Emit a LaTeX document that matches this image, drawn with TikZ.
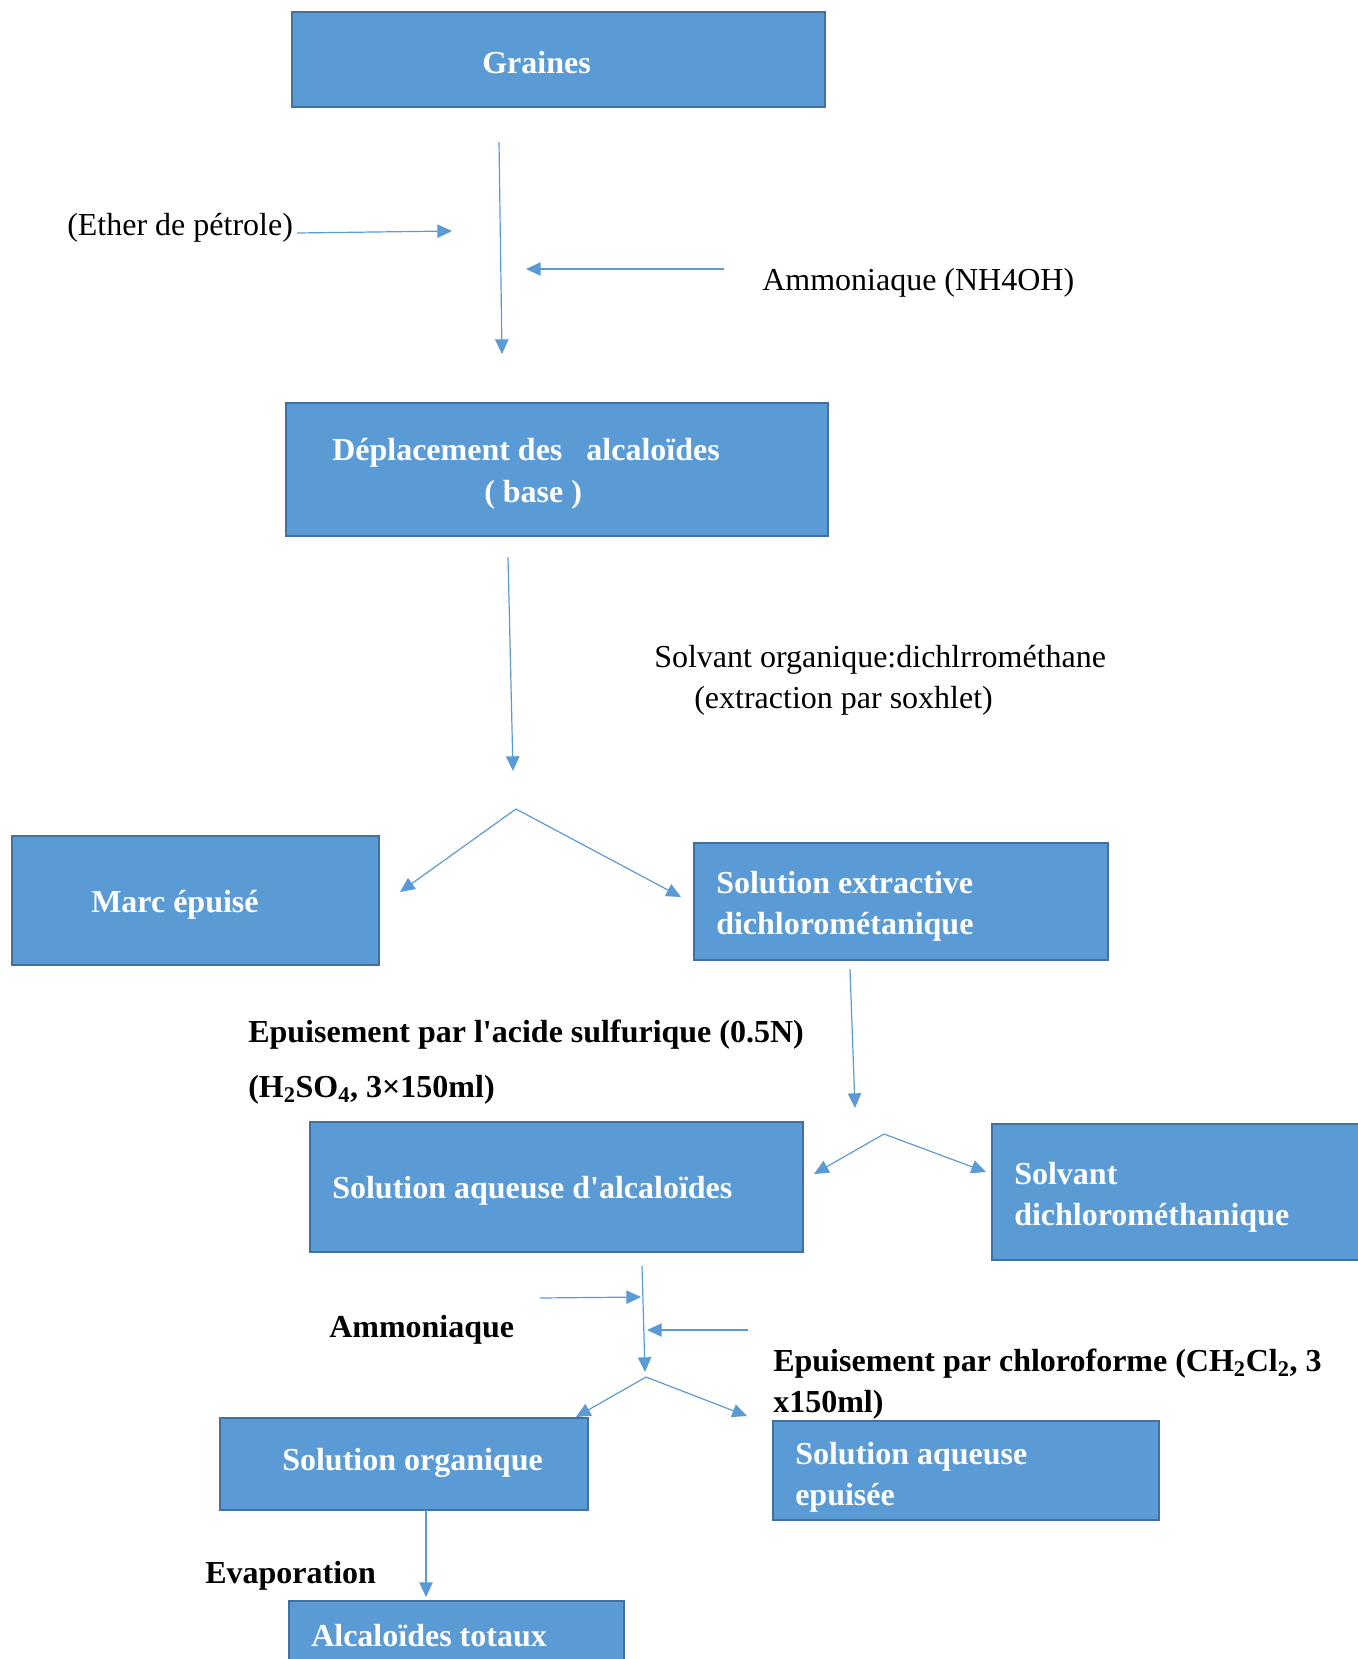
\documentclass[tikz,border=0pt]{standalone}
\usepackage{fontspec}
\setmainfont{Liberation Serif}[Ligatures=TeXOff]
\usepackage{tikz}
\usetikzlibrary{arrows.meta,fit}

\definecolor{boxfill}{RGB}{91,155,213}
\definecolor{boxline}{RGB}{65,113,156}

\tikzset{
  boite/.style={draw=boxline, fill=boxfill, line width=1.6pt, inner sep=0pt},
  dansboite/.style={text=white, font=\fontsize{24}{30.75}\selectfont\bfseries, align=left, inner sep=0.75pt, anchor=west},
  legende/.style={text=black, font=\fontsize{24}{30.75}\selectfont, align=left, inner sep=0.75pt, anchor=west},
  legendegras/.style={legende, font=\fontsize{24}{30.75}\selectfont\bfseries},
  fleche/.style={draw=boxfill, line width=0.9pt, -{Triangle[length=11pt,width=10pt]}}
}

\begin{document}
\begin{tikzpicture}[x=0.75pt,y=0.75pt,yscale=-1,xscale=1]
        \useasboundingbox (0,0) rectangle (1358,1659);

        %Shape: Rectangle [Graines]
        \node [boite, fit={(292,12) (825,107)}] (graines) {};
        %Shape: Rectangle [Deplacement]
        \node [boite, fit={(286,403) (828,536)}] (deplac) {};
        %Shape: Rectangle [Marc]
        \node [boite, fit={(12,836) (379,965)}] (marc) {};
        %Shape: Rectangle [Solution extractive]
        \node [boite, fit={(694,843) (1108,960)}] (solext) {};
        %Shape: Rectangle [Solution aqueuse]
        \node [boite, fit={(310,1122) (803,1252)}] (solaq) {};
        %Shape: Rectangle [Solvant]
        \node [boite, fit={(992,1124) (1372,1260)}] (solvant) {};
        %Shape: Rectangle [Solution organique]
        \node [boite, fit={(220,1418) (588,1510)}] (solorg) {};
        %Shape: Rectangle [Solution aqueuse epuisee]
        \node [boite, fit={(773,1421) (1159,1520)}] (solaqep) {};
        %Shape: Rectangle [Alcaloides]
        \node [boite, fit={(289,1601) (624,1690)}] (alcal) {};

        % free ends of the connectors
        \coordinate (g1) at (499,142);
        \coordinate (g2) at (502,354);
        \coordinate (eth1) at (297,233);
        \coordinate (eth2) at (452,231);
        \coordinate (amm1) at (724,269);
        \coordinate (amm2) at (526,269);
        \coordinate (d1) at (508,557);
        \coordinate (d2) at (513,771);
        \coordinate (s1) at (516,809);
        \coordinate (s1g) at (400,892);
        \coordinate (s1d) at (681,897);
        \coordinate (x1) at (850,969);
        \coordinate (x2) at (855,1108);
        \coordinate (s2) at (884,1134);
        \coordinate (s2g) at (814,1174);
        \coordinate (s2d) at (986,1172);
        \coordinate (q1) at (642,1266);
        \coordinate (q2) at (645,1372);
        \coordinate (n1) at (540,1298);
        \coordinate (n2) at (641,1297);
        \coordinate (c1) at (748,1330);
        \coordinate (c2) at (647,1330);
        \coordinate (s3) at (646,1377);
        \coordinate (s3g) at (576,1417);
        \coordinate (s3d) at (747,1416);
        \coordinate (o1) at (426,1510);
        \coordinate (o2) at (426,1597);

        %Straight Lines
        \draw [fleche] (g1) -- (g2);
        \draw [fleche] (eth1) -- (eth2);
        \draw [fleche] (amm1) -- (amm2);
        \draw [fleche] (d1) -- (d2);
        \draw [fleche] (s1) -- (s1g);
        \draw [fleche] (s1) -- (s1d);
        \draw [fleche] (x1) -- (x2);
        \draw [fleche] (s2) -- (s2g);
        \draw [fleche] (s2) -- (s2d);
        \draw [fleche] (q1) -- (q2);
        \draw [fleche] (n1) -- (n2);
        \draw [fleche] (c1) -- (c2);
        \draw [fleche] (s3) -- (s3g);
        \draw [fleche] (s3) -- (s3d);
        \draw [fleche] (o1) -- (o2);

        % Text Node
        \node [dansboite] (tgraines) at (481,63) {Graines};
        % Text Node
        \node [dansboite] (tdeplac) at (331,453) {Déplacement des \ \ alcaloïdes};
        \node [dansboite] (tbase) at (483,495) {( base )};
        % Text Node
        \node [dansboite] (tmarc) at (90,905) {Marc épuisé};
        % Text Node
        \node [dansboite] (tsolext) at (715,906) {Solution extractive\\dichlorométanique};
        % Text Node
        \node [dansboite] (tsolaq) at (331,1191) {Solution aqueuse d'alcaloïdes};
        % Text Node
        \node [dansboite] (tsolvant) at (1013,1197) {Solvant\\dichlorométhanique};
        % Text Node
        \node [dansboite] (tsolorg) at (281,1463) {Solution organique};
        % Text Node
        \node [dansboite] (tsolaqep) at (794,1477) {Solution aqueuse\\epuisée};
        % Text Node
        \node [dansboite] (talcal) at (310,1636) {Alcaloïdes totaux};

        % Text Node
        \node [legende] (tether) at (66,228) {(Ether de pétrole)};
        % Text Node
        \node [legende] (tammo) at (761,283) {Ammoniaque (NH4OH)};
        % Text Node
        \node [legende] (tsolv1) at (653,660) {Solvant organique:dichlrrométhane};
        \node [legende] (tsolv2) at (693,701) {(extraction par soxhlet)};
        % Text Node
        \node [legendegras] (tacide1) at (247,1035) {Epuisement par l'acide sulfurique (0.5N)};
        \node [legendegras] (tacide2) at (247,1090) {(H\textsubscript{2}SO\textsubscript{4}, 3×150ml)};
        % Text Node
        \node [legendegras] (tammo2) at (328,1330) {Ammoniaque};
        % Text Node
        \node [legendegras] (tchloro) at (772,1384) {Epuisement par chloroforme (CH\textsubscript{2}Cl\textsubscript{2}, 3\\x150ml)};
        % Text Node
        \node [legendegras] (tevap) at (204,1576) {Evaporation};

    \end{tikzpicture}
\end{document}
